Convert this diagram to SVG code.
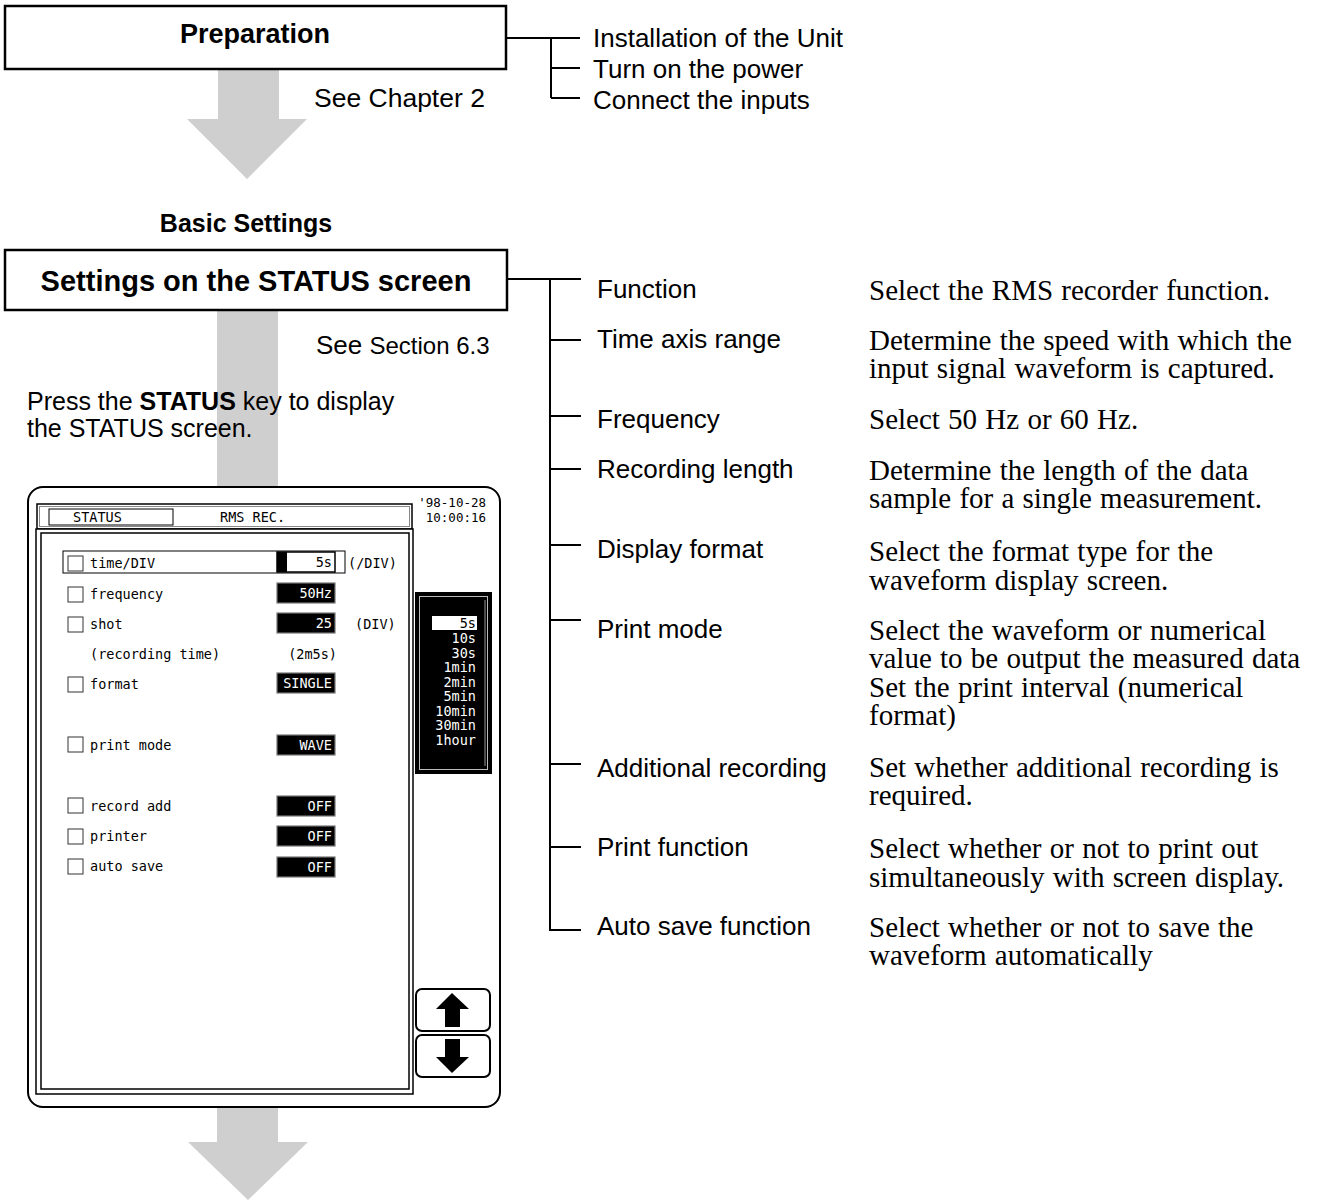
<svg xmlns="http://www.w3.org/2000/svg" width="1327" height="1202" viewBox="0 0 1327 1202">
<style>
.sans{font-family:"Liberation Sans",Arial,sans-serif;fill:#000}
.serif{font-family:"Liberation Serif","Times New Roman",serif;font-size:29px;word-spacing:1px;fill:#000}
.lbl{font-size:26px}
.mono{font-family:"DejaVu Sans Mono","Liberation Mono",monospace;font-size:13.5px;fill:#000}
.dt{font-size:12.5px}
.wm{fill:#fff;text-anchor:end}
.ln{stroke:#000;stroke-width:2;fill:none}
.box{fill:#fff;stroke:#000;stroke-width:2.5}
.cb{fill:#fff;stroke:#333;stroke-width:1}
.vb{fill:#000;stroke:#777;stroke-width:1.2}
.flow{fill:#cfcfcf}
</style>

<!-- gray flow arrows -->
<g id="flow-arrows">
  <polygon class="flow" points="218,69 279,69 279,119 307,119 247,179 187,119 218,119"/>
  <rect class="flow" x="217" y="310" width="61" height="180"/>
  <polygon class="flow" points="217,1105 278,1105 278,1142 308,1142 248,1200 188,1142 217,1142"/>
</g>

<g id="connectors">
  <path class="ln" d="M506 38 H580 M551 38 V98 M551 68 H580 M551 98 H580"/>
  <path class="ln" d="M507 279 H581 M550 279 V930 H581 M550 340 H581 M550 416 H581 M550 469 H581 M550 545 H581 M550 620 H581 M550 764 H581 M550 847 H581"/>
</g>

<g id="preparation">
  <rect class="box" x="5" y="6" width="501" height="63"/>
  <text class="sans" x="255" y="43" font-size="27" font-weight="bold" text-anchor="middle">Preparation</text>
</g>
<g id="see-chapter">
  <text class="sans" x="314" y="107" font-size="26.5">See Chapter 2</text>
</g>
<g id="prep-items">
  <text class="sans lbl" x="593" y="47">Installation of the Unit</text>
  <text class="sans lbl" x="593" y="78">Turn on the power</text>
  <text class="sans lbl" x="593" y="109">Connect the inputs</text>
</g>

<g id="basic-settings">
  <text class="sans" x="246" y="232" font-size="25" font-weight="bold" text-anchor="middle">Basic Settings</text>
</g>
<g id="settings-status">
  <rect class="box" x="5" y="250" width="502" height="60"/>
  <text class="sans" x="256" y="291" font-size="29" font-weight="bold" text-anchor="middle">Settings on the STATUS screen</text>
</g>
<g id="see-section">
  <text class="sans" x="316" y="354" font-size="26">See <tspan font-size="24">Section 6.3</tspan></text>
</g>
<g id="press-status">
  <text class="sans" x="27" y="410" font-size="25">Press the <tspan font-weight="bold">STATUS</tspan> key to display</text>
  <text class="sans" x="27" y="437" font-size="25">the STATUS screen.</text>
</g>

<!-- setting items -->
<g id="item-function">
  <text class="sans lbl" x="597" y="298">Function</text>
  <text class="serif" x="869" y="300">Select the RMS recorder function.</text>
</g>
<g id="item-time-axis">
  <text class="sans lbl" x="597" y="348">Time axis range</text>
  <text class="serif" x="869" y="350">Determine the speed with which the</text>
  <text class="serif" x="869" y="378">input signal waveform is captured.</text>
</g>
<g id="item-frequency">
  <text class="sans lbl" x="597" y="428">Frequency</text>
  <text class="serif" x="869" y="429">Select 50 Hz or 60 Hz.</text>
</g>
<g id="item-recording-length">
  <text class="sans lbl" x="597" y="478">Recording length</text>
  <text class="serif" x="869" y="480">Determine the length of the data</text>
  <text class="serif" x="869" y="508">sample for a single measurement.</text>
</g>
<g id="item-display-format">
  <text class="sans lbl" x="597" y="558">Display format</text>
  <text class="serif" x="869" y="561">Select the format type for the</text>
  <text class="serif" x="869" y="590">waveform display screen.</text>
</g>
<g id="item-print-mode">
  <text class="sans lbl" x="597" y="638">Print mode</text>
  <text class="serif" x="869" y="640">Select the waveform or numerical</text>
  <text class="serif" x="869" y="668">value to be output the measured data</text>
  <text class="serif" x="869" y="697">Set the print interval (numerical</text>
  <text class="serif" x="869" y="725">format)</text>
</g>
<g id="item-additional-recording">
  <text class="sans lbl" x="597" y="777">Additional recording</text>
  <text class="serif" x="869" y="777">Set whether additional recording is</text>
  <text class="serif" x="869" y="805">required.</text>
</g>
<g id="item-print-function">
  <text class="sans lbl" x="597" y="856">Print function</text>
  <text class="serif" x="869" y="858">Select whether or not to print out</text>
  <text class="serif" x="869" y="887">simultaneously with screen display.</text>
</g>
<g id="item-auto-save">
  <text class="sans lbl" x="597" y="935">Auto save function</text>
  <text class="serif" x="869" y="937">Select whether or not to save the</text>
  <text class="serif" x="869" y="965">waveform automatically</text>
</g>

<!-- screen picture -->
<g id="status-screen">
  <rect x="28" y="487" width="472" height="620" rx="15" fill="#fff" stroke="#000" stroke-width="2"/>
  <!-- status bar -->
  <rect x="37" y="504" width="375" height="25" fill="#fff" stroke="#000" stroke-width="1.5"/>
  <rect x="39.5" y="506.5" width="370" height="20" fill="none" stroke="#888" stroke-width="1"/>
  <rect x="49" y="509" width="124" height="16" fill="none" stroke="#000" stroke-width="1"/>
  <text class="mono" x="73" y="522">STATUS</text>
  <text class="mono" x="220" y="522">RMS REC.</text>
  <text class="mono dt" x="486" y="507" text-anchor="end">'98-10-28</text>
  <text class="mono dt" x="486" y="522" text-anchor="end">10:00:16</text>
  <!-- main panel -->
  <rect x="36" y="529" width="377" height="565" fill="#fff" stroke="#000" stroke-width="1.5"/>
  <rect x="41" y="533" width="368" height="556" fill="none" stroke="#000" stroke-width="1.5"/>

  <!-- time/DIV row (selected) -->
  <rect x="63" y="551" width="282" height="22" fill="none" stroke="#000" stroke-width="1"/>
  <rect class="cb" x="68" y="556" width="15" height="15"/>
  <text class="mono" x="90" y="568">time/DIV</text>
  <rect x="277" y="552" width="58" height="20" fill="#fff" stroke="#000" stroke-width="1.5"/>
  <rect x="277" y="552" width="10" height="20" fill="#000"/>
  <text class="mono" x="332" y="567" text-anchor="end">5s</text>
  <text class="mono" x="348" y="568">(/DIV)</text>

  <rect class="cb" x="68" y="587" width="15" height="15"/>
  <text class="mono" x="90" y="599">frequency</text>
  <rect class="vb" x="277" y="583" width="58" height="20"/>
  <text class="mono wm" x="332" y="598">50Hz</text>

  <rect class="cb" x="68" y="617" width="15" height="15"/>
  <text class="mono" x="90" y="629">shot</text>
  <rect class="vb" x="277" y="613" width="58" height="20"/>
  <text class="mono wm" x="332" y="628">25</text>
  <text class="mono" x="355" y="629">(DIV)</text>

  <text class="mono" x="90" y="659">(recording time)</text>
  <text class="mono" x="337" y="659" text-anchor="end">(2m5s)</text>

  <rect class="cb" x="68" y="677" width="15" height="15"/>
  <text class="mono" x="90" y="689">format</text>
  <rect class="vb" x="277" y="673" width="58" height="20"/>
  <text class="mono wm" x="332" y="688">SINGLE</text>

  <rect class="cb" x="68" y="737" width="15" height="15"/>
  <text class="mono" x="90" y="750">print mode</text>
  <rect class="vb" x="277" y="735" width="58" height="20"/>
  <text class="mono wm" x="332" y="750">WAVE</text>

  <rect class="cb" x="68" y="798" width="15" height="15"/>
  <text class="mono" x="90" y="811">record add</text>
  <rect class="vb" x="277" y="796" width="58" height="20"/>
  <text class="mono wm" x="332" y="811">OFF</text>

  <rect class="cb" x="68" y="829" width="15" height="15"/>
  <text class="mono" x="90" y="841">printer</text>
  <rect class="vb" x="277" y="826" width="58" height="20"/>
  <text class="mono wm" x="332" y="841">OFF</text>

  <rect class="cb" x="68" y="859" width="15" height="15"/>
  <text class="mono" x="90" y="871">auto save</text>
  <rect class="vb" x="277" y="857" width="58" height="20"/>
  <text class="mono wm" x="332" y="872">OFF</text>

  <!-- range list -->
  <rect x="416" y="593" width="75" height="180" fill="#000" stroke="#000" stroke-width="2"/>
  <rect x="419.5" y="596.5" width="68" height="173" fill="none" stroke="#bbb" stroke-width="1"/>
  <line x1="485" y1="600" x2="485" y2="766" stroke="#999" stroke-width="1"/>
  <rect x="432" y="616" width="45" height="14" fill="#fff"/>
  <text class="mono" x="476" y="628" text-anchor="end">5s</text>
  <text class="mono wm" x="476" y="643">10s</text>
  <text class="mono wm" x="476" y="657.5">30s</text>
  <text class="mono wm" x="476" y="672">1min</text>
  <text class="mono wm" x="476" y="686.5">2min</text>
  <text class="mono wm" x="476" y="701">5min</text>
  <text class="mono wm" x="476" y="715.5">10min</text>
  <text class="mono wm" x="476" y="730">30min</text>
  <text class="mono wm" x="476" y="744.5">1hour</text>

  <!-- scroll buttons -->
  <rect x="416" y="989" width="74" height="42" rx="6" fill="#fff" stroke="#000" stroke-width="2"/>
  <polygon points="452,993 469,1009 460,1009 460,1027 445,1027 445,1009 436,1009" fill="#000"/>
  <rect x="416" y="1035" width="74" height="42" rx="6" fill="#fff" stroke="#000" stroke-width="2"/>
  <polygon points="445,1039 460,1039 460,1057 469,1057 452,1073 436,1057 445,1057" fill="#000"/>
</g>
</svg>
